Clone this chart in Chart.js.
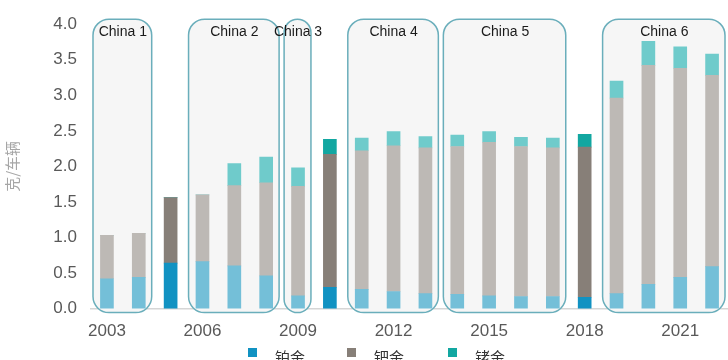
<!DOCTYPE html>
<html>
<head>
<meta charset="utf-8">
<script src="https://cdn.jsdelivr.net/npm/chart.js@4/dist/chart.umd.min.js"></script>
<style>
    html, body { margin: 0; padding: 0; background: #ffffff; overflow: hidden; }
    #wrap { position: relative; width: 728px; height: 360px; }
    .legend-item { position: absolute; top: 347px; font: 15px "Noto Sans CJK SC", sans-serif; color: #333333; }
    .legend-box { position: absolute; width: 9px; height: 9px; top: 1px; }
    .legend-text { position: absolute; left: 27px; top: -1px; white-space: nowrap; }
</style>
</head>
<body>
<div id="wrap">
    <canvas id="chart"></canvas>
</div>
<script>
// Loading per vehicle (g/vehicle), 2003 - 2022
const years = ['2003', '2004', '2005', '2006', '2007', '2008', '2009', '2010', '2011', '2012',
               '2013', '2014', '2015', '2016', '2017', '2018', '2019', '2020', '2021', '2022'];
const platinum  = [0.42, 0.44, 0.64, 0.66, 0.60, 0.46, 0.18, 0.30, 0.27, 0.24,
                   0.21, 0.20, 0.18, 0.17, 0.17, 0.16, 0.21, 0.34, 0.44, 0.59];
const palladium = [0.61, 0.62, 0.92, 0.94, 1.13, 1.31, 1.54, 1.87, 1.95, 2.05,
                   2.05, 2.08, 2.16, 2.11, 2.09, 2.11, 2.75, 3.08, 2.94, 2.69];
const rhodium   = [0, 0, 0, 0, 0.31, 0.36, 0.26, 0.21, 0.18, 0.20,
                   0.16, 0.16, 0.15, 0.13, 0.14, 0.18, 0.24, 0.34, 0.30, 0.30];

// years that sit between standards (drawn darker)
const gapYears = ['2005', '2010', '2018'];

// emission standard groups
const stageNames = ['China 1', 'China 2', 'China 3', 'China 4', 'China 5', 'China 6'];
const stageStart = ['2003', '2006', '2009', '2011', '2014', '2019'];
const stageEnd   = ['2004', '2008', '2009', '2013', '2017', '2022'];

const xTickStep = 3;
const yTicks = [0, 0.5, 1, 1.5, 2, 2.5, 3, 3.5, 4];

const seriesNames = ['铂金', '钯金', '铑金'];
const lightColors = ['#74bfd8', '#bdb9b5', '#6fcbcb'];
const darkColors  = ['#1192c2', '#877f78', '#12a7a1'];

function colorFor(series) {
    return ctx => gapYears.includes(years[ctx.dataIndex]) ? darkColors[series] : lightColors[series];
}

// Rounded boxes around each standard period
const stageBoxes = {
    id: 'stageBoxes',
    beforeDatasetsDraw(chart) {
        const { ctx, chartArea, scales: { x } } = chart;
        const catW = (chartArea.right - chartArea.left) / years.length;
        ctx.save();
        stageNames.forEach((name, i) => {
            const left = x.getPixelForValue(years.indexOf(stageStart[i])) - catW / 2 + 2;
            const right = x.getPixelForValue(years.indexOf(stageEnd[i])) + catW / 2 - 3;
            const top = chartArea.top - 5;
            const bottom = chartArea.bottom + 4;
            ctx.beginPath();
            ctx.roundRect(left, top, right - left, bottom - top, 16);
            ctx.fillStyle = '#f6f6f6';
            ctx.fill();
            ctx.lineWidth = 1.5;
            ctx.strokeStyle = '#6aaebb';
            ctx.stroke();
        });
        ctx.restore();
    },
    afterDatasetsDraw(chart) {
        const { ctx, chartArea, scales: { x } } = chart;
        ctx.save();
        ctx.font = '14px "Liberation Sans", Arial, sans-serif';
        ctx.fillStyle = '#1a1a1a';
        ctx.textAlign = 'center';
        ctx.textBaseline = 'middle';
        stageNames.forEach((name, i) => {
            const a = x.getPixelForValue(years.indexOf(stageStart[i]));
            const b = x.getPixelForValue(years.indexOf(stageEnd[i]));
            ctx.fillText(name, (a + b) / 2, chartArea.top + 8);
        });
        ctx.restore();
    }
};

const chart = new Chart(document.getElementById('chart'), {
    type: 'bar',
    data: {
        labels: years,
        datasets: [
            { label: seriesNames[0], data: platinum, backgroundColor: colorFor(0) },
            { label: seriesNames[1], data: palladium, backgroundColor: colorFor(1) },
            { label: seriesNames[2], data: rhodium, backgroundColor: colorFor(2) }
        ]
    },
    options: {
        responsive: true,
        maintainAspectRatio: false,
        animation: false,
        layout: { padding: { top: 22, right: 0, bottom: 5, left: 0 } },
        datasets: { bar: { barThickness: 13, borderWidth: 0 } },
        plugins: {
            legend: { display: false },
            tooltip: { enabled: false }
        },
        scales: {
            x: {
                stacked: true,
                grid: { display: false, drawTicks: false },
                border: { display: true, color: '#d6d6d6', width: 1.5 },
                ticks: {
                    autoSkip: false,
                    maxRotation: 0,
                    padding: 13,
                    color: '#595959',
                    font: { family: '"Liberation Sans", Arial, sans-serif', size: 17 },
                    callback: (v, i) => i % xTickStep === 0 ? years[i] : ''
                }
            },
            y: {
                stacked: true,
                min: yTicks[0],
                max: yTicks[yTicks.length - 1],
                afterBuildTicks: axis => { axis.ticks = yTicks.map(v => ({ value: v })); },
                afterFit: axis => { axis.width = 91; },
                grid: { display: false, drawTicks: false },
                border: { display: false },
                ticks: {
                    padding: 14,
                    color: '#595959',
                    font: { family: '"Liberation Sans", Arial, sans-serif', size: 17 },
                    callback: v => v.toFixed(1)
                },
                title: {
                    display: true,
                    text: '克/车辆',
                    color: '#a6a6a6',
                    font: { family: '"Noto Sans CJK SC", sans-serif', size: 15 },
                    padding: { top: 3, bottom: 4 }
                }
            }
        }
    },
    plugins: [stageBoxes]
});

// legend along the bottom edge
const legendX = [248, 347, 448];
const wrap = document.getElementById('wrap');
seriesNames.forEach((name, i) => {
    const item = document.createElement('div');
    item.className = 'legend-item';
    item.style.left = legendX[i] + 'px';
    item.innerHTML = '<span class="legend-box" style="background:' + darkColors[i] + '"></span>' +
                     '<span class="legend-text">' + name + '</span>';
    wrap.appendChild(item);
});
</script>
</body>
</html>
